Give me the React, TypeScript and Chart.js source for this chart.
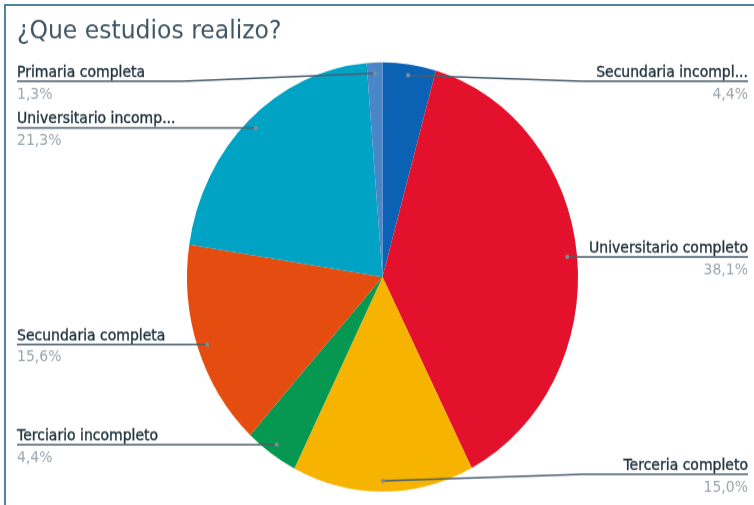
import React, { useEffect, useRef } from "react";
import { Chart, registerables } from "chart.js";

Chart.register(...registerables);

const chartTitle = "¿Que estudios realizo?";
const categories = [
  "Secundaria incompl...",
  "Universitario completo",
  "Terceria completo",
  "Terciario incompleto",
  "Secundaria completa",
  "Universitario incomp...",
  "Primaria completa",
];
const values = [4.4, 38.1, 15.0, 4.4, 15.6, 21.3, 1.3];
const valueLabels = ["4,4%", "38,1%", "15,0%", "4,4%", "15,6%", "21,3%", "1,3%"];
const sliceColors = [
  "#0b62b4",
  "#e3112b",
  "#f6b400",
  "#069751",
  "#e54d10",
  "#00a3c4",
  "#4a86c8",
];

const W = 754;
const H = 460;
const SY = 505 / H;

const labelsPlugin = {
  id: "sideLabels",
  afterDraw(chart: any) {
    const ctx = chart.ctx as CanvasRenderingContext2D;
    const meta = chart.getDatasetMeta(0);
    const leftEdge = 17;
    const rightEdge = 748;
    const minY = 74;
    const maxY = 432;
    const gap = 34;
    type Item = { i: number; dx: number; dy: number; side: string; ly: number; cx: number; r: number };
    const items: Item[] = meta.data.map((arc: any, i: number) => {
      const p = arc.getProps(["x", "y", "startAngle", "endAngle", "outerRadius"], true);
      const mid = (p.startAngle + p.endAngle) / 2;
      const dx = p.x + Math.cos(mid) * p.outerRadius * 0.95;
      const dy = p.y + Math.sin(mid) * p.outerRadius * 0.95;
      return { i, dx, dy, side: Math.cos(mid) >= 0 ? "right" : "left", ly: dy, cx: p.x, r: p.outerRadius };
    });
    for (const side of ["left", "right"]) {
      const s = items.filter((it) => it.side === side).sort((a, b) => a.dy - b.dy);
      let prev = -Infinity;
      for (const it of s) {
        it.ly = Math.max(Math.min(Math.max(it.dy, minY), maxY), prev + gap);
        prev = it.ly;
      }
      let next = Infinity;
      for (let k = s.length - 1; k >= 0; k--) {
        const it = s[k];
        it.ly = Math.min(it.ly, maxY, next - gap);
        next = it.ly;
      }
    }
    ctx.save();
    for (const it of items) {
      const left = it.side === "left";
      const edge = left ? leftEdge : rightEdge;
      const knee = left ? it.cx - it.r - 5 : it.cx + it.r + 5;
      ctx.strokeStyle = "#4a5f6d";
      ctx.lineWidth = 1.5;
      ctx.beginPath();
      ctx.moveTo(edge, it.ly);
      ctx.lineTo(knee, it.ly);
      ctx.lineTo(it.dx, it.dy);
      ctx.stroke();
      ctx.fillStyle = "#7d8f9c";
      ctx.beginPath();
      ctx.arc(it.dx, it.dy, 2, 0, Math.PI * 2);
      ctx.fill();
      ctx.textAlign = left ? "left" : "right";
      ctx.textBaseline = "alphabetic";
      ctx.font = "14px 'DejaVu Sans', sans-serif";
      ctx.fillStyle = "#22343f";
      ctx.strokeStyle = "#22343f";
      ctx.lineWidth = 0.35;
      ctx.fillText(categories[it.i], edge, it.ly - 4);
      ctx.strokeText(categories[it.i], edge, it.ly - 4);
      ctx.font = "14px 'DejaVu Sans', sans-serif";
      ctx.fillStyle = "#9aa6ae";
      ctx.fillText(valueLabels[it.i], edge, it.ly + 15.5);
    }
    ctx.font = "23.5px 'DejaVu Sans', sans-serif";
    ctx.fillStyle = "#3e5564";
    ctx.textAlign = "left";
    ctx.fillText(chartTitle, 17, 34.5);
    ctx.restore();
  },
};

export default function App() {
  const ref = useRef<HTMLCanvasElement | null>(null);
  useEffect(() => {
    document.body.style.margin = "0";
    const canvas = ref.current!;
    const chart = new Chart(canvas, {
      type: "pie",
      data: {
        labels: categories,
        datasets: [
          {
            data: values,
            backgroundColor: sliceColors,
            borderWidth: 0,
          },
        ],
      },
      options: {
        animation: false,
        responsive: false,
        maintainAspectRatio: false,
        devicePixelRatio: 1,
        layout: { padding: { left: 187, right: 176, top: 56.5, bottom: 11.8 } },
        plugins: {
          legend: { display: false },
          tooltip: { enabled: false },
          title: { display: false },
        },
      },
      plugins: [labelsPlugin],
    });
    return () => chart.destroy();
  }, []);
  return (
    <div style={{ position: "fixed", left: 0, top: 0, width: 754, height: 505, background: "#fff", overflow: "hidden" }}>
      <div
        style={{
          position: "absolute",
          left: 0,
          top: 0,
          width: W,
          height: H,
          transform: `scaleY(${SY})`,
          transformOrigin: "0 0",
        }}
      >
        <canvas ref={ref} width={W} height={H} style={{ width: W, height: H, display: "block" }} />
      </div>
      <div
        style={{
          position: "absolute",
          left: 4,
          top: 4,
          right: 0,
          bottom: 0,
          borderTop: "2px solid #4a86a0",
          borderLeft: "2px solid #4a86a0",
          pointerEvents: "none",
        }}
      />
    </div>
  );
}
